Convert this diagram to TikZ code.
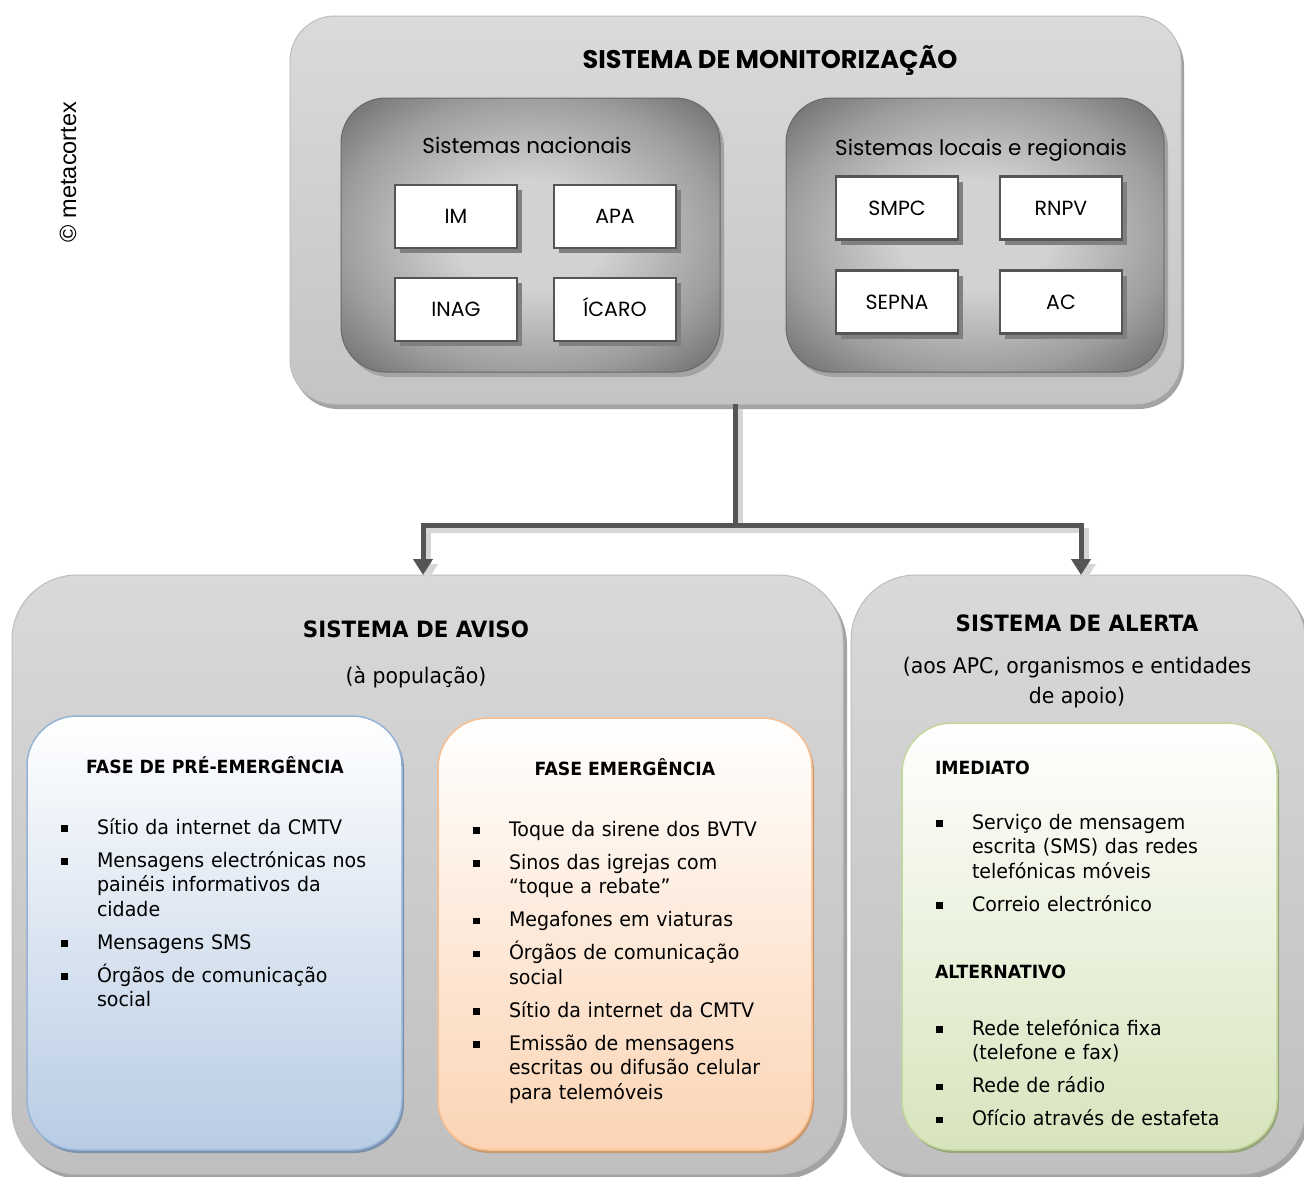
\documentclass[tikz,border=0pt]{standalone}
\usepackage{fontspec}
\setmainfont{DejaVu Sans}[FakeStretch=0.95]
\newfontfamily\geof{Poppins}
\newfontfamily\arialf{Liberation Sans}
\usetikzlibrary{shadows,arrows.meta}
\definecolor{bgt}{HTML}{D9D9D9}
\definecolor{bgb}{HTML}{BFBFBF}
\definecolor{boxbd}{HTML}{BDBDBD}
\definecolor{shad}{HTML}{A3A3A3}
\definecolor{mont}{HTML}{DADADA}
\definecolor{monb}{HTML}{C4C4C4}
\definecolor{dkA}{HTML}{D2D2D2}
\definecolor{dkB}{HTML}{9E9E9E}
\definecolor{dkC}{HTML}{686868}
\definecolor{lineg}{HTML}{555555}
\definecolor{lineshad}{HTML}{D6D6D6}
\definecolor{bluebot}{HTML}{B8CCE4}
\definecolor{bluebd}{HTML}{95B3D7}
\definecolor{blueshad}{HTML}{7D91AD}
\definecolor{orbot}{HTML}{FBD4B4}
\definecolor{orbd}{HTML}{F9BE8F}
\definecolor{orshad}{HTML}{C89A72}
\definecolor{grbot}{HTML}{D7E4BD}
\definecolor{grbd}{HTML}{C3D69B}
\definecolor{grshad}{HTML}{97A77B}
\pgfdeclareradialshading{darkrad}{\pgfpoint{0bp}{0bp}}{color(0bp)=(dkA); color(10bp)=(dkA); color(25bp)=(dkB); color(36bp)=(dkC); color(50bp)=(dkC)}
\newlength\isep
\setlength\isep{8.5pt}
\newcommand\itmbody[1]{\lineskiplimit=-1000pt\noindent\makebox[36pt][l]{\raisebox{2.3pt}{\rule{6.5pt}{6.5pt}}}\parbox[t]{300pt}{\lineskiplimit=-1000pt\raggedright #1\strut}\par\prevdepth=\dp\strutbox}
\newcommand\itmA[1]{\itmbody{#1}}
\newcommand\itm[1]{\vspace{\isep}\itmbody{#1}}
\begin{document}
\begin{tikzpicture}[x=1pt,y=-1pt,
  every node/.style={inner sep=0pt, outer sep=0pt},
  bigbox/.style={draw=boxbd, line width=1pt, rounded corners=#1, top color=bgt, bottom color=bgb,
     drop shadow={shadow xshift=4pt, shadow yshift=-5pt, fill=shad, opacity=1}},
  monbox/.style={draw=boxbd, line width=1pt, rounded corners=45pt, top color=mont, bottom color=monb,
     drop shadow={shadow xshift=3pt, shadow yshift=-5pt, fill=shad, opacity=1}},
  darkbox/.style={draw=dkC, line width=1pt, rounded corners=45pt, shading=darkrad,
     drop shadow={shadow xshift=4pt, shadow yshift=-5pt, fill=shad, opacity=1}},
  smallbox/.style={draw=lineg, line width=2.5pt, fill=white, minimum width=122pt, minimum height=63pt,
     text height=14.5pt, text depth=0pt, font=\geof\fontsize{20.5}{24}\selectfont,
     drop shadow={shadow xshift=5pt, shadow yshift=-5pt, fill=black!50, opacity=1}},
  colbox/.style n args={3}{draw=#2, line width=1.5pt, rounded corners=50pt, top color=white, bottom color=#1,
     drop shadow={shadow xshift=2pt, shadow yshift=-3pt, fill=#3, opacity=1}},
  geotitle/.style={anchor=base, font=\geof\bfseries\fontsize{25.5}{30}\selectfont},
  geosub/.style={anchor=base, font=\geof\fontsize{21.5}{26}\selectfont},
  bigtitle/.style={anchor=base, font=\bfseries\fontsize{22.5}{27}\selectfont},
  subtitle/.style={anchor=base, font=\fontsize{21.5}{30}\selectfont},
  heading/.style={font=\bfseries\fontsize{18.2}{22}\selectfont},
  listtext/.style={anchor=base west, text width=340pt, align=left, font=\fontsize{20}{24.5}\selectfont},
  conn/.style={line width=5pt, draw=lineg},
  connshad/.style={line width=5pt, draw=lineshad},
  tip/.style={-{Triangle[width=19pt,length=16pt]}}
]
\fill[white] (0,0) rectangle (1304,1176);
\useasboundingbox (0,0) rectangle (1304,1176);
\clip (0,0) rectangle (1304,1176);

% watermark
\node[rotate=90, font=\arialf\fontsize{23.5}{28}\selectfont] (wm) at (68,172) {© metacortex};

% top monitoring system
\node[monbox, minimum width=891pt, minimum height=388pt] (mon) at (735.5,210) {};
\node[geotitle] (montitle) at (770,68) {SISTEMA DE MONITORIZAÇÃO};
\node[darkbox, minimum width=379pt, minimum height=274pt] (natl) at (530.5,235) {};
\node[darkbox, minimum width=378pt, minimum height=274pt] (locl) at (975,235) {};
\node[geosub] (natlt) at (527,153) {Sistemas nacionais};
\node[geosub] (loclt) at (981,155) {Sistemas locais e regionais};
\node[smallbox] (im) at (456,216.5) {IM};
\node[smallbox] (apa) at (615,216.5) {APA};
\node[smallbox] (inag) at (456,309.5) {INAG};
\node[smallbox] (icaro) at (615,309.5) {ÍCARO};
\node[smallbox] (smpc) at (897,208) {SMPC};
\node[smallbox] (rnpv) at (1061,208) {RNPV};
\node[smallbox] (sepna) at (897,302) {SEPNA};
\node[smallbox] (ac) at (1061,302) {AC};

% bottom boxes
\node[bigbox=65pt, minimum width=831pt, minimum height=599pt] (aviso) at (427.5,874.5) {};
\node[bigbox=65pt, minimum width=454pt, minimum height=599pt] (alerta) at (1078,874.5) {};

% connectors
\coordinate (j) at (mon.south |- 0,525);
\coordinate (ta) at ([xshift=-4.5pt]aviso.north);
\coordinate (tb) at ([xshift=3pt]alerta.north);
\begin{scope}[transform canvas={xshift=5pt,yshift=-5pt}]
  \draw[connshad] (mon.south) -- (j);
  \draw[connshad, tip] (j) -| (ta);
  \draw[connshad, tip] (j) -| (tb);
\end{scope}
\draw[conn] (mon.south) -- (j);
\draw[conn, tip] (j) -| (ta);
\draw[conn, tip] (j) -| (tb);

% titles
\node[bigtitle] (avisot) at (416,637) {SISTEMA DE AVISO};
\node[subtitle] (avisos) at (416,683) {(à população)};
\node[bigtitle] (alertat) at (1077,631) {SISTEMA DE ALERTA};
\node[subtitle] (alertas1) at (1077,673) {(aos APC, organismos e entidades};
\node[subtitle] (alertas2) at (1077,703) {de apoio)};

% coloured boxes
\node[colbox={bluebot}{bluebd}{blueshad}, minimum width=375pt, minimum height=434pt] (pre) at (214.5,933) {};
\node[colbox={orbot}{orbd}{orshad}, minimum width=374pt, minimum height=432pt] (eme) at (625,934) {};
\node[colbox={grbot}{grbd}{grshad}, minimum width=375pt, minimum height=427pt] (ale) at (1089.5,936.5) {};

\node[heading, anchor=base] (preh) at (215,773) {FASE DE PRÉ-EMERGÊNCIA};
\node[heading, anchor=base] (emeh) at (625,775) {FASE EMERGÊNCIA};
\node[heading, anchor=base west] (imh) at (935,774) {IMEDIATO};
\node[heading, anchor=base west] (alth) at (935,978) {ALTERNATIVO};

\node[listtext] (prel) at (61,834) {%
\itmA{Sítio da internet da CMTV}
\itm{Mensagens electrónicas nos\\painéis informativos da\\cidade}
\itm{Mensagens SMS}
\itm{Órgãos de comunicação\\social}};

\node[listtext] (emel) at (473,836) {%
\itmA{Toque da sirene dos BVTV}
\itm{Sinos das igrejas com\\“toque a rebate”}
\itm{Megafones em viaturas}
\itm{Órgãos de comunicação\\social}
\itm{Sítio da internet da CMTV}
\itm{Emissão de mensagens\\escritas ou difusão celular\\para telemóveis}};

\node[listtext] (imel) at (936,829) {%
\itmA{Serviço de mensagem\\escrita (SMS) das redes\\telefónicas móveis}
\itm{Correio electrónico}};

\node[listtext] (altl) at (936,1035) {%
\itmA{Rede telefónica fixa\\(telefone e fax)}
\itm{Rede de rádio}
\itm{Ofício através de estafeta}};
\end{tikzpicture}
\end{document}
